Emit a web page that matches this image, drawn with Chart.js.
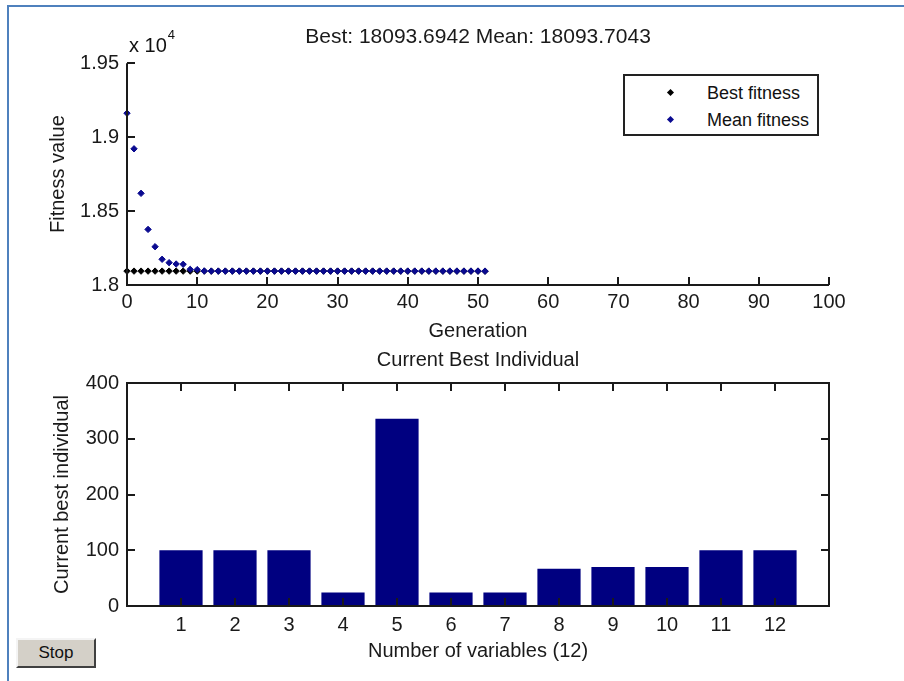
<!DOCTYPE html>
<html>
<head>
<meta charset="utf-8">
<script src="https://cdn.jsdelivr.net/npm/chart.js@4.4.0/dist/chart.umd.min.js"></script>
<style>
  body { margin: 0; width: 904px; height: 681px; background: #fff; position: relative; overflow: hidden;
         font-family: 'Liberation Sans', Arial, sans-serif; color: #111; }
  canvas { position: absolute; left: 0; }
  #top-chart { top: 0; }
  #bottom-chart { top: 340px; }
  .frame { position: absolute; background: #4f81bd; }
  #exp { position: absolute; left: 129px; top: 35px; font-size: 20px; line-height: 20px; white-space: nowrap; }
  #exp span { font-size: 13px; position: relative; top: -13px; margin-left: 1px; }
  #legend { position: absolute; left: 623px; top: 74px; width: 192px; height: 58px; border: 2px solid #222; background: #fff; }
  .leg-row { position: absolute; left: 0; height: 22px; line-height: 22px; font-size: 18px; }
  .leg-row i { position: absolute; left: 43px; top: 8px; width: 5px; height: 5px; transform: rotate(45deg); }
  .leg-row b { position: absolute; left: 82px; font-weight: normal; white-space: nowrap; }
  #stop { position: absolute; left: 16px; top: 638px; width: 76px; height: 26px; background: #d4d0c8;
          border-top: 2px solid #f4f4f4; border-left: 2px solid #f4f4f4; border-right: 2px solid #404040; border-bottom: 2px solid #404040;
          font-size: 17px; line-height: 26px; text-align: center; }
</style>
</head>
<body>
<canvas id="top-chart" width="904" height="350"></canvas>
<canvas id="bottom-chart" width="904" height="341"></canvas>
<div class="frame" style="left:7px; top:5px; width:897px; height:2px;"></div>
<div class="frame" style="left:7px; top:5px; width:2px; height:676px;"></div>
<div id="exp">x 10<span>4</span></div>
<div id="legend">
  <div class="leg-row" style="top:6px;"><i style="background:#000;"></i><b>Best fitness</b></div>
  <div class="leg-row" style="top:33px;"><i style="background:#0a0a90;"></i><b>Mean fitness</b></div>
</div>
<div id="stop">Stop</div>
<script>
// ---- data: fitness per generation ----
const generations = [0, 1, 2, 3, 4, 5, 6, 7, 8, 9, 10, 11, 12, 13, 14, 15, 16, 17, 18, 19, 20, 21, 22, 23, 24, 25,
  26, 27, 28, 29, 30, 31, 32, 33, 34, 35, 36, 37, 38, 39, 40, 41, 42, 43, 44, 45, 46, 47, 48, 49, 50, 51];
const bestFitness = [18094, 18094, 18094, 18094, 18094, 18094, 18094, 18094, 18094, 18094, 18094, 18094, 18094,
  18094, 18094, 18094, 18094, 18094, 18094, 18094, 18094, 18094, 18094, 18094, 18094, 18094, 18094, 18094,
  18094, 18094, 18094, 18094, 18094, 18094, 18094, 18094, 18094, 18094, 18094, 18094, 18094, 18094, 18094,
  18094, 18094, 18094, 18094, 18094, 18094, 18094, 18094, 18093.69];
const meanFitness = [19162, 18921, 18620, 18376, 18259, 18174, 18151, 18142, 18140, 18106, 18104, 18095, 18094,
  18094, 18094, 18094, 18094, 18094, 18094, 18094, 18094, 18094, 18094, 18094, 18094, 18094, 18094, 18094,
  18094, 18094, 18094, 18094, 18094, 18094, 18094, 18094, 18094, 18094, 18094, 18094, 18094, 18094, 18094,
  18094, 18094, 18094, 18094, 18094, 18094, 18094, 18094, 18093.7];
const topXTicks = [0, 10, 20, 30, 40, 50, 60, 70, 80, 90, 100];
const topYTicks = [18000, 18500, 19000, 19500];
const topYTickLabels = ['1.8', '1.85', '1.9', '1.95'];

// ---- data: current best individual ----
const variables = [1, 2, 3, 4, 5, 6, 7, 8, 9, 10, 11, 12];
const bestIndividual = [100, 100, 100, 24, 336, 24, 24, 67, 70, 70, 100, 100];
const bottomYTicks = [0, 100, 200, 300, 400];

const FONT = "'Liberation Sans', Arial, sans-serif";
const INK = '#1a1a1a';

// MATLAB style: ticks point into the plot, optional box
const insideTicks = {
  id: 'insideTicks',
  afterDatasetsDraw(chart, args, opts) {
    const { ctx, chartArea: a, scales: { x, y } } = chart;
    const len = opts.len || 8;
    ctx.save();
    ctx.strokeStyle = INK;
    ctx.lineWidth = 2;
    ctx.beginPath();
    if (opts.box) {
      ctx.rect(a.left, a.top, a.right - a.left, a.bottom - a.top);
    } else {
      ctx.moveTo(a.left, a.top);
      ctx.lineTo(a.left, a.bottom);
      ctx.lineTo(a.right, a.bottom);
    }
    x.ticks.forEach(t => {
      const px = Math.round(x.getPixelForValue(t.value));
      ctx.moveTo(px, a.bottom); ctx.lineTo(px, a.bottom - len);
      if (opts.box) { ctx.moveTo(px, a.top); ctx.lineTo(px, a.top + len); }
    });
    y.ticks.forEach(t => {
      const py = Math.round(y.getPixelForValue(t.value));
      ctx.moveTo(a.left, py); ctx.lineTo(a.left + len, py);
      if (opts.box) { ctx.moveTo(a.right, py); ctx.lineTo(a.right - len, py); }
    });
    ctx.stroke();
    ctx.restore();
  }
};

function tickFont() { return { family: FONT, size: 20 }; }

// ---- top chart: fitness vs generation ----
new Chart(document.getElementById('top-chart'), {
  type: 'scatter',
  data: {
    datasets: [
      {
        label: 'Mean fitness',
        data: generations.map((g, i) => ({ x: g, y: meanFitness[i] })),
        pointStyle: 'rectRot', pointRadius: 3.2, borderWidth: 1,
        backgroundColor: '#0a0a90', borderColor: '#0a0a90', clip: false
      },
      {
        label: 'Best fitness',
        data: generations.map((g, i) => ({ x: g, y: bestFitness[i] })),
        pointStyle: 'rectRot', pointRadius: 3.2, borderWidth: 1,
        backgroundColor: '#000', borderColor: '#000', clip: false
      }
    ]
  },
  options: {
    responsive: false, animation: false, devicePixelRatio: 1,
    layout: { padding: { left: 0, right: 75, top: 0, bottom: 0 } },
    plugins: {
      legend: { display: false }, tooltip: { enabled: false },
      title: {
        display: true, fullSize: false, text: 'Best: 18093.6942 Mean: 18093.7043',
        color: INK, font: { family: FONT, size: 21, weight: 'normal' },
        padding: { top: 25, bottom: 13 }
      },
      insideTicks: { len: 8 }
    },
    scales: {
      x: {
        type: 'linear', min: 0, max: 100,
        afterBuildTicks: s => { s.ticks = topXTicks.map(v => ({ value: v })); },
        afterFit: s => { s.height = 65; },
        grid: { display: false, drawTicks: false }, border: { display: false },
        ticks: { color: INK, font: tickFont(), padding: 5, maxRotation: 0 },
        title: { display: true, text: 'Generation', color: INK, font: tickFont(), padding: { top: 0, bottom: 7 } }
      },
      y: {
        min: 18000, max: 19500,
        afterBuildTicks: s => { s.ticks = topYTicks.map(v => ({ value: v })); },
        afterFit: s => { s.width = 127; },
        grid: { display: false, drawTicks: false }, border: { display: false },
        ticks: { color: INK, font: tickFont(), padding: 8, callback: (v, i) => topYTickLabels[i] },
        title: { display: true, text: 'Fitness value', color: INK, font: tickFont(), padding: { top: 46, bottom: 0 } }
      }
    }
  },
  plugins: [insideTicks]
});

// ---- bottom chart: current best individual ----
new Chart(document.getElementById('bottom-chart'), {
  type: 'bar',
  data: {
    datasets: [{
      label: 'Current best individual',
      data: variables.map((v, i) => ({ x: v, y: bestIndividual[i] })),
      backgroundColor: '#000080', borderWidth: 0,
      barPercentage: 0.8, categoryPercentage: 1
    }]
  },
  options: {
    responsive: false, animation: false, devicePixelRatio: 1,
    layout: { padding: { left: 0, right: 75, top: 0, bottom: 0 } },
    plugins: {
      legend: { display: false }, tooltip: { enabled: false },
      title: {
        display: true, fullSize: false, text: 'Current Best Individual',
        color: INK, font: { family: FONT, size: 20, weight: 'normal' },
        padding: { top: 8, bottom: 11 }
      },
      insideTicks: { len: 8, box: true }
    },
    scales: {
      x: {
        type: 'linear', min: 0, max: 13, offset: false,
        afterBuildTicks: s => { s.ticks = variables.map(v => ({ value: v })); },
        afterFit: s => { s.height = 75; },
        grid: { display: false, drawTicks: false }, border: { display: false },
        ticks: { color: INK, font: tickFont(), padding: 7, maxRotation: 0 },
        title: { display: true, text: 'Number of variables (12)', color: INK, font: tickFont(), padding: { top: 0, bottom: 18 } }
      },
      y: {
        min: 0, max: 400,
        afterBuildTicks: s => { s.ticks = bottomYTicks.map(v => ({ value: v })); },
        afterFit: s => { s.width = 127; },
        grid: { display: false, drawTicks: false }, border: { display: false },
        ticks: { color: INK, font: tickFont(), padding: 8 },
        title: { display: true, text: 'Current best individual', color: INK, font: tickFont(), padding: { top: 50, bottom: 0 } }
      }
    }
  },
  plugins: [insideTicks]
});
</script>
</body>
</html>
